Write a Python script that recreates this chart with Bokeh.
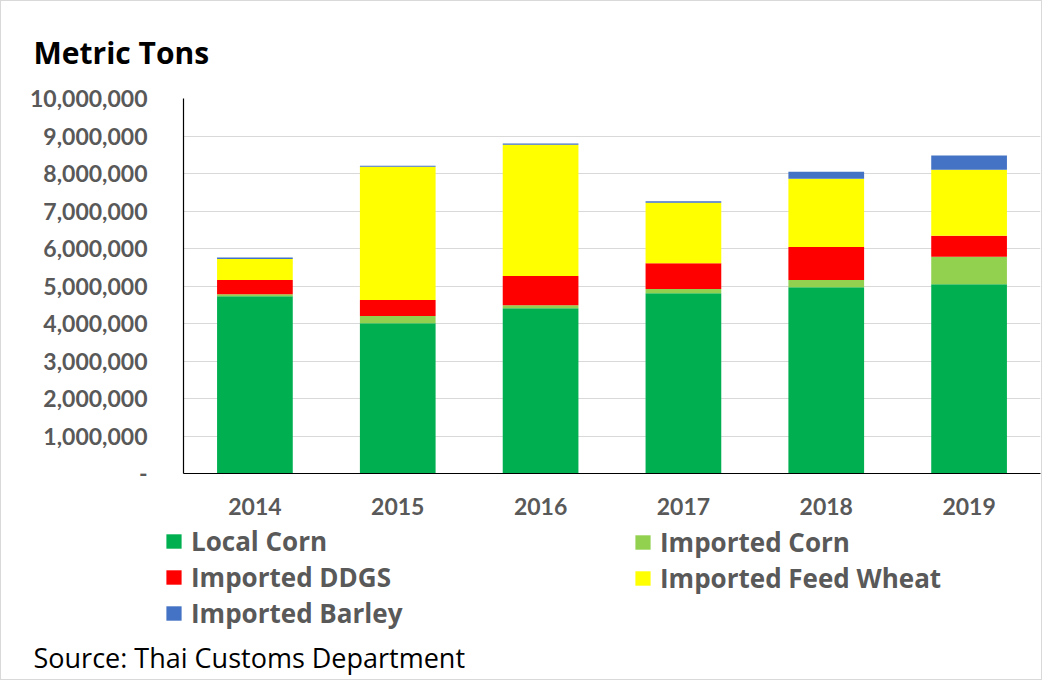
from bokeh.plotting import figure
from bokeh.layouts import column
from bokeh.models import (Range1d, NumeralTickFormatter, Legend, LegendItem, Label,
                          ColumnDataSource, FixedTicker)
from bokeh.embed import file_html
from bokeh.resources import INLINE

years = ["2014", "2015", "2016", "2017", "2018", "2019"]
local_corn = [4730000, 4010000, 4410000, 4810000, 4970000, 5050000]
imported_corn = [50000, 190000, 80000, 110000, 190000, 730000]
imported_ddgs = [380000, 430000, 780000, 690000, 880000, 560000]
imported_feed_wheat = [560000, 3550000, 3500000, 1610000, 1820000, 1760000]
imported_barley = [40000, 30000, 30000, 40000, 190000, 380000]

series_keys = ["local_corn", "imported_corn", "imported_ddgs", "imported_feed_wheat", "imported_barley"]
series_names = ["Local Corn", "Imported Corn", "Imported DDGS", "Imported Feed Wheat", "Imported Barley"]
colors = ["#00B050", "#92D050", "#FF0000", "#FFFF00", "#4472C4"]
y_ticks = [i * 1000000 for i in range(11)]

FONT = "Lato"
GRAY = "#595959"

source = ColumnDataSource(data=dict(
    year=years, local_corn=local_corn, imported_corn=imported_corn,
    imported_ddgs=imported_ddgs, imported_feed_wheat=imported_feed_wheat,
    imported_barley=imported_barley))

# ---------------- chart ----------------
p = figure(x_range=years, y_range=Range1d(0, 10000000), width=1040, height=522,
           output_backend="svg", toolbar_location=None,
           min_border_left=182, min_border_right=1, min_border_top=97, min_border_bottom=50)
p.frame_align = False
p.outline_line_color = None

renderers = p.vbar_stack(series_keys, x="year", width=0.53, color=colors,
                         line_color=None, source=source)

p.title.text = "Metric Tons"
p.title.align = "left"
p.title.offset = -150
p.title.standoff = 51
p.title.text_font = "Open Sans"
p.title.text_font_style = "bold"
p.title.text_font_size = "30px"
p.title.text_color = "black"

p.yaxis.ticker = FixedTicker(ticks=y_ticks)
p.yaxis.formatter = NumeralTickFormatter(format="0,0")
p.yaxis.major_label_overrides = {0: "-"}
for ax in (p.xaxis[0], p.yaxis[0]):
    ax.axis_line_color = "black"
    ax.axis_line_width = 1.2
    ax.major_tick_line_color = None
    ax.minor_tick_line_color = None
    ax.major_label_text_font = FONT
    ax.major_label_text_font_style = "bold"
    ax.major_label_text_font_size = "23px"
    ax.major_label_text_color = GRAY
p.yaxis.major_label_standoff = 30
p.xaxis.major_label_standoff = 18
p.xgrid.grid_line_color = None
p.ygrid.grid_line_color = "#d9d9d9"
p.ygrid.grid_line_width = 1

# ---------------- legend + source panel ----------------
q = figure(width=1040, height=156, output_backend="svg", toolbar_location=None,
           x_range=years, y_range=Range1d(-2, -1),
           min_border_left=0, min_border_right=0, min_border_top=0, min_border_bottom=0)
q.frame_align = False
q.axis.visible = False
q.grid.visible = False
q.outline_line_color = None

swatches = q.vbar_stack(series_keys, x="year", width=0.53, color=colors,
                        line_color=None, source=source, visible=False)

def make_legend(idx, loc):
    items = [LegendItem(label=series_names[i], renderers=[swatches[i]]) for i in idx]
    return Legend(items=items, location=loc, padding=0, margin=0,
                  border_line_color=None, background_fill_alpha=0,
                  inactive_fill_alpha=0,
                  glyph_width=19, glyph_height=18, label_standoff=8, spacing=-1,
                  label_height=20,
                  label_text_font="Open Sans", label_text_font_style="bold",
                  label_text_font_size="26px", label_text_color=GRAY)

q.add_layout(make_legend([0, 2, 4], (163, 48)), "center")
q.add_layout(make_legend([1, 3], (632, 83)), "center")
q.add_layout(Label(x=32, y=22, x_units="screen", y_units="screen",
                   text="Source: Thai Customs Department",
                   text_font="Open Sans", text_font_size="27px",
                   text_color="black", text_baseline="middle"))

layout = column(p, q, spacing=0, styles={"border": "1px solid #d9d9d9"})
open("out.html", "w").write(file_html(layout, INLINE))
